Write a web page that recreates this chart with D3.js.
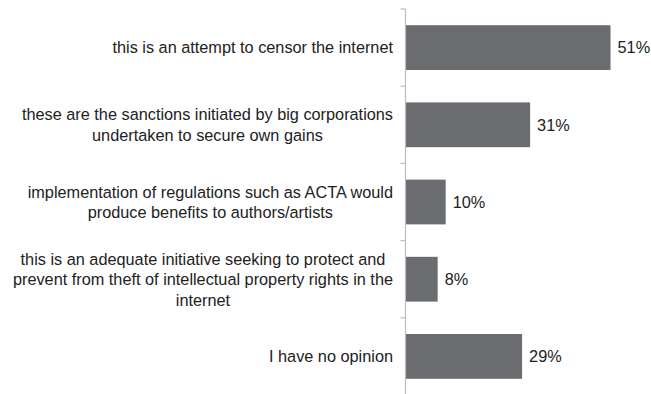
<!DOCTYPE html>
<html>
<head>
<meta charset="utf-8">
<script src="https://cdn.jsdelivr.net/npm/d3@7"></script>
<style>
  html, body { margin: 0; padding: 0; background: #fff; }
  svg { display: block; }
  text { font-family: "Liberation Sans", Arial, sans-serif; }
</style>
</head>
<body>
<svg id="chart" width="651" height="394"></svg>
<script>
// Survey answers (each category is split into its wrapped lines)
const categories = [
  ["this is an attempt to censor the internet"],
  ["these are the sanctions initiated by big corporations", "undertaken to secure own gains"],
  ["implementation of regulations such as ACTA would", "produce benefits to authors/artists"],
  ["this is an adequate initiative seeking to protect and", "prevent from theft of intellectual property rights in the", "internet"],
  ["I have no opinion"]
];
const values = [51, 31, 10, 8, 29];
const valueLabels = ["51%", "31%", "10%", "8%", "29%"];

const svg = d3.select("#chart");
const axisX = 405.5;
const fontSize = 16.3;
const lineHeight = 20.5;

const ids = d3.range(categories.length);

const y = d3.scaleBand()
  .domain(ids)
  .range([9, 395])
  .paddingInner(0.42)
  .paddingOuter(0.21);

const x = d3.scaleLinear()
  .domain([0, 60])
  .range([axisX, axisX + 241.2]);

// bars
svg.append("g")
  .selectAll("rect")
  .data(ids)
  .join("rect")
  .attr("x", x(0))
  .attr("y", i => y(i))
  .attr("width", i => x(values[i]) - x(0))
  .attr("height", y.bandwidth())
  .attr("fill", "#6b6c70");

// value labels
svg.append("g")
  .selectAll("text")
  .data(ids)
  .join("text")
  .attr("x", i => x(values[i]) + 7)
  .attr("y", i => y(i) + y.bandwidth() / 2)
  .attr("dy", "0.36em")
  .attr("font-size", fontSize)
  .attr("fill", "#222")
  .text(i => valueLabels[i]);

// vertical category axis with ticks at band boundaries
const axisG = svg.append("g");
const step = y.step();
const boundaries = ids.map(i => y(i) - step * y.paddingInner() / 2);
boundaries.push(y(ids.length - 1) + y.bandwidth() + step * y.paddingInner() / 2);
axisG.append("line")
  .attr("x1", axisX).attr("x2", axisX)
  .attr("y1", boundaries[0]).attr("y2", boundaries[boundaries.length - 1])
  .attr("stroke", "#bdbdbd").attr("stroke-width", 1.2);
axisG.selectAll("line.tick")
  .data(boundaries.slice(0, -1))
  .join("line")
  .attr("class", "tick")
  .attr("x1", axisX - 5).attr("x2", axisX)
  .attr("y1", d => d).attr("y2", d => d)
  .attr("stroke", "#bdbdbd").attr("stroke-width", 1.2);

// category labels: block right-aligned against the axis, lines centred in the block
const labelRight = 393;
const labelG = svg.append("g");
ids.forEach(i => {
  const lines = categories[i];
  const t = labelG.append("text")
    .attr("font-size", fontSize)
    .attr("fill", "#222")
    .attr("text-anchor", "middle");
  const cy = y(i) + y.bandwidth() / 2;
  const top = cy - (lines.length - 1) * lineHeight / 2;
  const spans = lines.map((ln, k) => t.append("tspan")
    .attr("y", top + k * lineHeight)
    .attr("dy", "0.36em")
    .text(ln));
  const maxW = d3.max(spans, s => s.node().getComputedTextLength());
  spans.forEach(s => s.attr("x", labelRight - maxW / 2));
});
</script>
</body>
</html>
